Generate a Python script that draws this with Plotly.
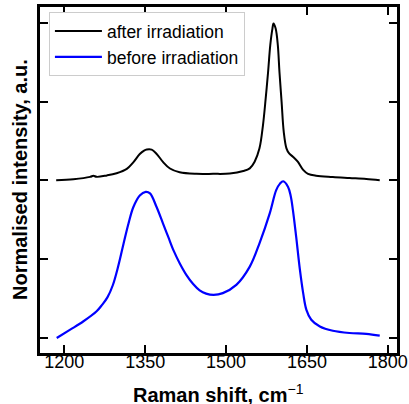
import plotly.graph_objects as go

# Raman shift (cm^-1) and normalised intensity
x_after = [1185, 1217, 1248, 1254, 1260, 1279, 1297, 1316, 1328, 1340, 1348, 1353, 1362, 1371,
           1383, 1396, 1414, 1445, 1476, 1507, 1532, 1544, 1553, 1562, 1568.5, 1573.5, 1578,
           1582, 1586, 1588, 1592, 1596, 1599, 1603, 1607, 1612, 1617, 1624, 1633, 1643, 1652,
           1667, 1698, 1729, 1760, 1785]
y_after = [1.002, 1.008, 1.023, 1.030, 1.023, 1.032, 1.046, 1.074, 1.115, 1.168, 1.190, 1.197,
           1.196, 1.170, 1.118, 1.076, 1.052, 1.042, 1.042, 1.044, 1.060, 1.077, 1.119, 1.204,
           1.352, 1.521, 1.690, 1.859, 1.964, 1.996, 1.964, 1.859, 1.690, 1.499, 1.309, 1.204,
           1.172, 1.151, 1.119, 1.067, 1.042, 1.030, 1.022, 1.016, 1.010, 1.002]

x_before = [1186, 1211, 1235, 1260, 1270, 1280, 1290, 1300, 1310, 1319, 1328, 1340, 1351, 1359,
            1371, 1383, 1393, 1403, 1414, 1426, 1439, 1451, 1463, 1477, 1494, 1519, 1544, 1562,
            1581, 1593, 1600, 1606, 1615, 1620, 1624, 1630, 1637, 1643, 1649, 1658, 1674, 1698,
            1729, 1760, 1785]
y_before = [0.000, 0.053, 0.105, 0.170, 0.210, 0.258, 0.335, 0.455, 0.600, 0.725, 0.830, 0.905,
            0.928, 0.918, 0.833, 0.728, 0.640, 0.553, 0.475, 0.403, 0.343, 0.303, 0.282, 0.274,
            0.285, 0.337, 0.453, 0.601, 0.791, 0.939, 0.980, 0.995, 0.959, 0.900, 0.812, 0.643,
            0.432, 0.285, 0.179, 0.116, 0.073, 0.046, 0.032, 0.027, 0.015]

x_ticks = [1200, 1350, 1500, 1650, 1800]
y_ticks = [0, 0.5, 1, 1.5, 2]

FONT = "Liberation Sans, Arial, sans-serif"

fig = go.Figure()
fig.add_trace(go.Scatter(x=x_after, y=y_after, mode="lines", name="after irradiation",
                         line=dict(color="black", width=2, shape="spline", smoothing=1.0)))
fig.add_trace(go.Scatter(x=x_before, y=y_before, mode="lines", name="before irradiation",
                         line=dict(color="#0000ff", width=2.2, shape="spline", smoothing=1.0)))

axis_common = dict(showline=True, linecolor="black", linewidth=2.5, mirror="allticks",
                   ticks="inside", ticklen=8, tickwidth=2, tickcolor="black",
                   showgrid=False, zeroline=False, automargin=False)

fig.update_layout(
    width=409, height=404,
    margin=dict(l=40, r=12, t=7, b=51),
    paper_bgcolor="white", plot_bgcolor="white",
    font=dict(family=FONT, color="black", size=18),
    xaxis=dict(range=[1155, 1817], tickvals=x_ticks, ticktext=[str(v) for v in x_ticks],
               tickfont=dict(size=18), ticklabelstandoff=-9,
               **axis_common),
    yaxis=dict(range=[-0.095, 2.101], tickvals=y_ticks, showticklabels=False,
               **axis_common),
    legend=dict(x=0.025, y=0.985, xanchor="left", yanchor="top",
                bgcolor="white", bordercolor="#cccccc", borderwidth=1,
                font=dict(size=17.5), itemwidth=47, tracegroupgap=0),
    showlegend=True,
    annotations=[
        dict(text="<b>Raman shift, cm</b><sup>−1</sup>", xref="paper", yref="paper",
             x=0.5, y=-0.116, xanchor="center", yanchor="middle", showarrow=False,
             font=dict(size=20, family=FONT, color="black")),
        dict(text="<b>Normalised intensity, a.u.</b>", xref="paper", yref="paper",
             x=-0.056, y=0.5, xanchor="center", yanchor="middle", textangle=-90,
             showarrow=False, font=dict(size=20, family=FONT, color="black")),
    ],
)

fig.write_html("out.html", config={"displayModeBar": False},
               post_script="document.body.style.margin='0';")
